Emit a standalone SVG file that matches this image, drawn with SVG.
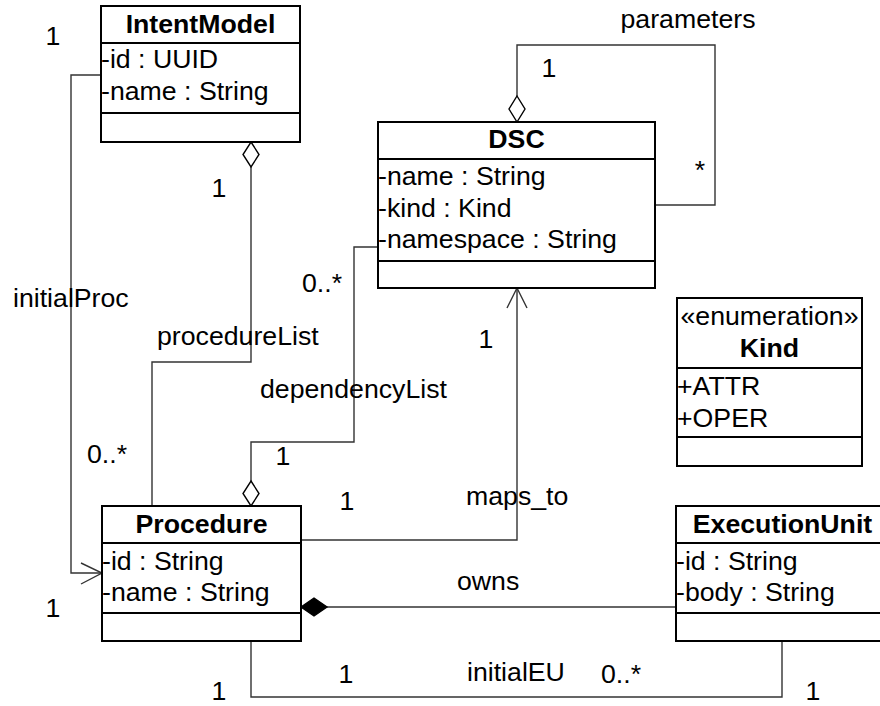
<svg xmlns="http://www.w3.org/2000/svg" width="880" height="706" viewBox="0 0 880 706">
  <style>
    text { font-family: "Liberation Sans", Arial, sans-serif; font-size: 26.7px; fill: #000; }
    .title { font-weight: bold; text-anchor: middle; }
    .mid { text-anchor: middle; }
    .box { fill: #fff; stroke: #000; stroke-width: 2; }
    .sep { stroke: #000; stroke-width: 2; }
    .conn { fill: none; stroke: #333; stroke-width: 1.4; }
    .hollow { fill: #fff; stroke: #000; stroke-width: 1.4; }
    .solid { fill: #000; stroke: #000; stroke-width: 1.4; }
  </style>
  <rect width="880" height="706" fill="#fff"/>

  <!-- connectors -->
  <g id="connectors">
    <!-- initialProc: IntentModel -> Procedure -->
    <polyline class="conn" points="101,75 71,75 71,573 102,573"/>
    <polyline class="conn" points="81,563 102,573 81,584"/>
    <!-- procedureList: IntentModel aggregates Procedure -->
    <polyline class="conn" points="251,167 251,362 152,362 152,506"/>
    <polygon class="hollow" points="251,142 259,154.5 251,167 243,154.5"/>
    <!-- dependencyList: Procedure aggregates DSC -->
    <polyline class="conn" points="378,247 354,247 354,442 251,442 251,481"/>
    <polygon class="hollow" points="251,481 259,493.5 251,506 243,493.5"/>
    <!-- maps_to: Procedure -> DSC -->
    <polyline class="conn" points="301,540 517,540 517,288"/>
    <polyline class="conn" points="507,308 517,288 527,308"/>
    <!-- parameters: DSC self aggregation -->
    <polyline class="conn" points="517,96 517,45 715,45 715,205 655,205"/>
    <polygon class="hollow" points="517,96 525,109 517,122 509,109"/>
    <!-- owns: Procedure composes ExecutionUnit -->
    <line class="conn" x1="327" y1="607" x2="676" y2="607"/>
    <polygon class="solid" points="301,607 314,598 327,607 314,616"/>
    <!-- initialEU: Procedure -> ExecutionUnit -->
    <polyline class="conn" points="251,641 251,697 782,697 782,641"/>
  </g>

  <!-- connector labels -->
  <g id="labels">
    <text class="mid" x="53" y="45">1</text>
    <text class="mid" x="688" y="28">parameters</text>
    <text class="mid" x="549" y="77">1</text>
    <text class="mid" x="700" y="179">*</text>
    <text class="mid" x="219" y="197">1</text>
    <text x="302" y="292">0..*</text>
    <text x="13" y="307">initialProc</text>
    <text x="157" y="345">procedureList</text>
    <text class="mid" x="486" y="348">1</text>
    <text x="260" y="398">dependencyList</text>
    <text x="87" y="463">0..*</text>
    <text class="mid" x="283" y="465">1</text>
    <text class="mid" x="347" y="510">1</text>
    <text x="466" y="505">maps_to</text>
    <text x="457" y="590">owns</text>
    <text class="mid" x="53" y="617">1</text>
    <text class="mid" x="346" y="683">1</text>
    <text x="601" y="683">0..*</text>
    <text x="467" y="681">initialEU</text>
    <text class="mid" x="219" y="700">1</text>
    <text class="mid" x="813" y="700">1</text>
  </g>

  <!-- IntentModel -->
  <g id="IntentModel">
    <rect class="box" x="101" y="6" width="199" height="136"/>
    <line class="sep" x1="101" y1="43" x2="300" y2="43"/>
    <line class="sep" x1="101" y1="113" x2="300" y2="113"/>
    <text class="title" x="200.5" y="33">IntentModel</text>
    <text x="101" y="68">-id : UUID</text>
    <text x="101" y="100">-name : String</text>
  </g>

  <!-- DSC -->
  <g id="DSC">
    <rect class="box" x="378" y="122" width="277" height="166"/>
    <line class="sep" x1="378" y1="159" x2="655" y2="159"/>
    <line class="sep" x1="378" y1="261" x2="655" y2="261"/>
    <text class="title" x="516.5" y="148">DSC</text>
    <text x="378" y="185">-name : String</text>
    <text x="378" y="217">-kind : Kind</text>
    <text x="378" y="248">-namespace : String</text>
  </g>

  <!-- Kind enumeration -->
  <g id="Kind">
    <rect class="box" x="677" y="298" width="185" height="168"/>
    <line class="sep" x1="677" y1="368" x2="862" y2="368"/>
    <line class="sep" x1="677" y1="437" x2="862" y2="437"/>
    <text class="mid" x="769.5" y="325">«enumeration»</text>
    <text class="title" x="769.5" y="357">Kind</text>
    <text x="677" y="395">+ATTR</text>
    <text x="677" y="427">+OPER</text>
  </g>

  <!-- Procedure -->
  <g id="Procedure">
    <rect class="box" x="102" y="506" width="199" height="135"/>
    <line class="sep" x1="102" y1="543" x2="301" y2="543"/>
    <line class="sep" x1="102" y1="613" x2="301" y2="613"/>
    <text class="title" x="201.5" y="533">Procedure</text>
    <text x="102" y="570">-id : String</text>
    <text x="102" y="601">-name : String</text>
  </g>

  <!-- ExecutionUnit -->
  <g id="ExecutionUnit">
    <rect class="box" x="676" y="506" width="213" height="135"/>
    <line class="sep" x1="676" y1="543" x2="889" y2="543"/>
    <line class="sep" x1="676" y1="613" x2="889" y2="613"/>
    <text class="title" x="782.5" y="533">ExecutionUnit</text>
    <text x="676" y="570">-id : String</text>
    <text x="676" y="601">-body : String</text>
  </g>
</svg>
